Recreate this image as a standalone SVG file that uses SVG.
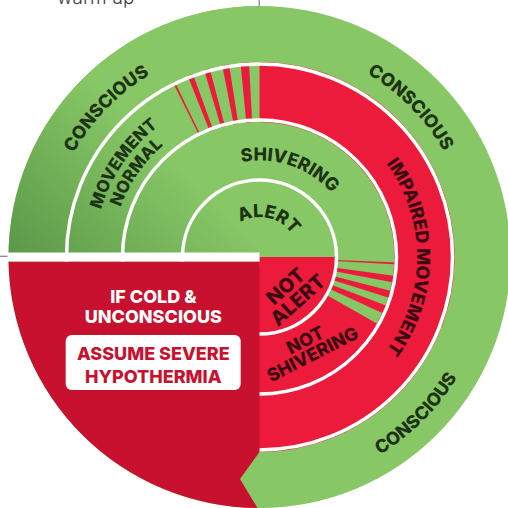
<svg xmlns="http://www.w3.org/2000/svg" width="508" height="508" viewBox="0 0 508 508">
  <style>
    .lbl { font-family: Inter, "Liberation Sans", sans-serif; font-weight: 800; font-size: 18px; }
    .sm { font-size: 17px; }
    .dk-g { fill: #1d3316; }
    .dk-r { fill: #3a0a12; }
    .wt { fill: #ffffff; }
    .rd { fill: #c8112f; }
    .green { fill: #88c766; }
    .red { fill: #ed1b3b; }
    .ring { fill: none; stroke: #ffffff; stroke-width: 3.5; }
    .leader { stroke: #8a8a8a; stroke-width: 1.3; fill: none; }
  </style>
  <defs>
    <linearGradient id="shade" gradientUnits="userSpaceOnUse" x1="10" y1="257" x2="140" y2="125">
      <stop offset="0" stop-color="#5a9848"/>
      <stop offset="1" stop-color="#88c766"/>
    </linearGradient>
    <!-- baselines for curved labels, all centred on (259.5, 257) -->
    <path id="arc-conscious-tl" d="M 46.53,260.35 A 212.5 212.5 0 0 1 256.15,44.5"/>
    <path id="arc-conscious-tr" d="M 260.62,44.5 A 212.5 212.5 0 0 1 472,258.12"/>
    <path id="arc-conscious-br" d="M 259.5,488.5 A 231.5 231.5 0 0 0 491,257"/>
    <path id="arc-movement" d="M 96.82,287.44 A 165.5 165.5 0 0 1 229.06,94.32"/>
    <path id="arc-normal" d="M 114.5,283.9 A 147.5 147.5 0 0 1 232.6,112"/>
    <path id="arc-shivering" d="M 196.2,184.2 A 96.5 96.5 0 0 1 354.2,238.6"/>
    <path id="arc-alert" d="M 222.0,244.5 A 39.5 39.5 0 0 1 298.6,262.8"/>
    <path id="arc-impaired" d="M 286.85,101.9 A 157.5 157.5 0 0 1 286.85,412.1"/>
  </defs>

  <!-- base disc -->
  <g id="disc">
    <circle cx="259.5" cy="257" r="251" class="green"/>
    <path d="M 259.5,257 L 8.5,257 A 251 251 0 0 1 259.5,6 Z" fill="url(#shade)"/>
  </g>

  <!-- movement ring: impaired half and fading stripes -->
  <g id="impaired-movement">
    <path class="red" d="M 259.5,62 A 195 195 0 1 1 252.69,451.88 L 254.79,391.92 A 135 135 0 1 0 259.5,122 Z"/>
    <polygon class="red" points="248.95,62.28 240.47,62.93 246.33,122.64 252.20,122.20"/>
    <polygon class="red" points="229.00,64.40 222.29,65.58 233.74,124.48 238.38,123.66"/>
    <polygon class="red" points="209.69,68.47 204.12,70.03 221.16,127.56 225.01,126.48"/>
    <polygon class="red" points="192.81,73.76 187.72,75.69 209.80,131.48 213.33,130.14"/>
    <polygon class="red" points="174.63,81.44 172.80,82.34 199.47,136.08 200.74,135.46"/>
  </g>

  <!-- shivering ring: not-shivering quarter and fading stripes -->
  <g id="not-shivering">
    <path class="red" d="M 380.48,325.45 A 139 139 0 0 1 254.65,395.92 L 256.88,331.95 A 75 75 0 0 0 324.78,293.93 Z"/>
    <polygon class="red" points="398.39,262.58 398.30,264.52 334.39,261.06 334.44,260.01"/>
    <polygon class="red" points="397.15,276.34 396.04,283.05 333.17,271.05 333.77,267.44"/>
    <polygon class="red" points="394.07,291.80 392.07,298.80 331.03,279.55 332.11,275.78"/>
    <polygon class="red" points="389.27,306.81 385.98,314.64 327.75,288.10 329.52,283.88"/>
  </g>

  <!-- centre: not-alert quarter -->
  <g id="not-alert">
    <path class="red" d="M 259.5,257 L 338,257 A 78.5 78.5 0 0 1 256.76,335.45 Z"/>
  </g>

  <!-- ring dividers -->
  <g id="dividers">
    <circle class="ring" cx="259.5" cy="257" r="77"/>
    <circle class="ring" cx="259.5" cy="257" r="137"/>
    <circle class="ring" cx="259.5" cy="257" r="193"/>
  </g>

  <!-- ring labels -->
  <g id="conscious">
    <text class="lbl dk-g"><textPath href="#arc-conscious-tl" startOffset="50%" text-anchor="middle">CONSCIOUS</textPath></text>
    <text class="lbl dk-g"><textPath href="#arc-conscious-tr" startOffset="50%" text-anchor="middle">CONSCIOUS</textPath></text>
    <text class="lbl dk-g"><textPath href="#arc-conscious-br" startOffset="50%" text-anchor="middle">CONSCIOUS</textPath></text>
  </g>
  <g id="movement-normal">
    <text class="lbl sm dk-g"><textPath href="#arc-movement" startOffset="50%" text-anchor="middle">MOVEMENT</textPath></text>
    <text class="lbl sm dk-g"><textPath href="#arc-normal" startOffset="50%" text-anchor="middle">NORMAL</textPath></text>
  </g>
  <g id="impaired-label">
    <text class="lbl dk-r"><textPath href="#arc-impaired" startOffset="50%" text-anchor="middle">IMPAIRED MOVEMENT</textPath></text>
  </g>
  <g id="shivering">
    <text class="lbl dk-g"><textPath href="#arc-shivering" startOffset="50%" text-anchor="middle">SHIVERING</textPath></text>
  </g>
  <g id="alert">
    <text class="lbl dk-g"><textPath href="#arc-alert" startOffset="50%" text-anchor="middle">ALERT</textPath></text>
  </g>
  <g id="not-alert-label" transform="translate(291.6,293) rotate(-42)">
    <text class="lbl dk-r" style="font-size:20px" x="0" y="-2" text-anchor="middle">NOT</text>
    <text class="lbl dk-r" style="font-size:20px" x="0" y="16.3" text-anchor="middle">ALERT</text>
  </g>
  <g id="not-shivering-label" transform="translate(309,347.5) rotate(-27)">
    <text class="lbl dk-r" x="0" y="-2" text-anchor="middle">NOT</text>
    <text class="lbl dk-r" x="0" y="14" text-anchor="middle">SHIVERING</text>
  </g>

  <!-- unconscious callout -->
  <g id="unconscious">
    <path class="rd" d="M 8.5,261.5 L 259.5,261.5 L 259.5,452 L 240,479 L 257.5,508 A 251 251 0 0 1 8.5,261.5 Z"/>
    <rect x="7.5" y="252.5" width="252" height="9" fill="#ffffff"/>
    <text class="lbl wt" x="153.3" y="303" text-anchor="middle">IF COLD &amp;</text>
    <text class="lbl wt" x="153.3" y="323.3" text-anchor="middle">UNCONSCIOUS</text>
    <rect x="65.7" y="335" width="175" height="55" rx="6" fill="#ffffff"/>
    <text class="lbl rd" x="153.3" y="360" text-anchor="middle">ASSUME SEVERE</text>
    <text class="lbl rd" x="153.3" y="382.7" text-anchor="middle">HYPOTHERMIA</text>
  </g>

  <!-- leader lines from neighbouring callouts -->
  <g id="connectors">
    <line class="leader" x1="259.2" y1="0" x2="259.2" y2="6"/>
    <line class="leader" x1="0" y1="256.3" x2="7.5" y2="256.3"/>
  </g>
  <g id="warm-up">
    <text x="57" y="4" style="font-family: Inter, 'Liberation Sans', sans-serif; font-weight: 300; font-size: 19px; fill: #3a3a3a;">warm up</text>
  </g>
</svg>
